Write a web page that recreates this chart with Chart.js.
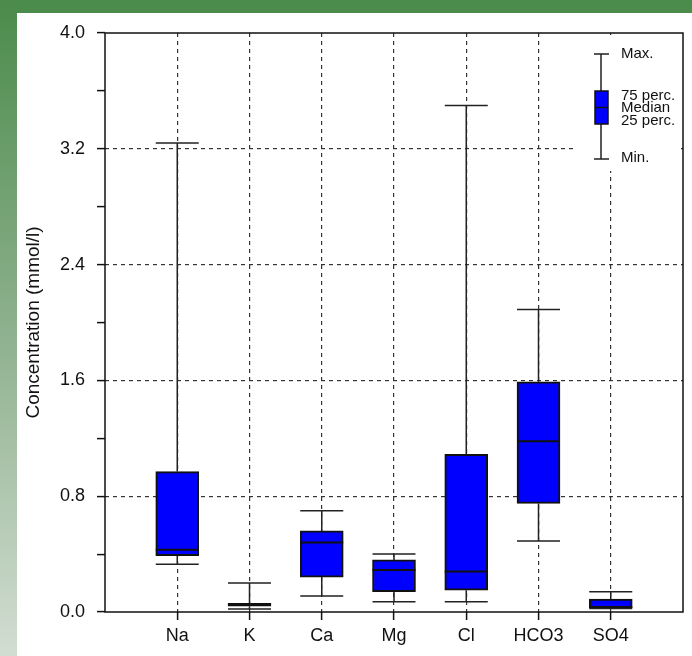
<!DOCTYPE html>
<html>
<head>
<meta charset="utf-8">
<title>Concentration box plot</title>
<script src="https://cdn.jsdelivr.net/npm/chart.js@4.4.1/dist/chart.umd.min.js"></script>
<style>
  html, body { margin: 0; padding: 0; background: #fff; }
  canvas { display: block; }
</style>
</head>
<body>
<canvas id="boxChart" width="692" height="656"></canvas>
<script>
// ions on the x axis, sitting at positions 1..7
const ions = ["Na", "K", "Ca", "Mg", "Cl", "HCO3", "SO4"];

// box statistics per ion (mmol/l)
const minVals = [0.33, 0.02, 0.11, 0.07, 0.07, 0.49, 0.025];
const q1Vals = [0.39, 0.04, 0.24, 0.14, 0.15, 0.75, 0.03];
const medianVals = [0.43, 0.05, 0.48, 0.29, 0.28, 1.18, 0.035];
const q3Vals = [0.97, 0.06, 0.56, 0.36, 1.09, 1.59, 0.09];
const maxVals = [3.24, 0.2, 0.7, 0.4, 3.5, 2.09, 0.14];

// y ticks every 0.4, labelled every 0.8
const yTicks = [0, 0.4, 0.8, 1.2, 1.6, 2.0, 2.4, 2.8, 3.2, 3.6, 4.0];

const legendLabels = ["Max.", "75 perc.", "Median", "25 perc.", "Min."];

const FONT = "'Liberation Sans', Arial, sans-serif";
const BOX_W = 43;
const LINE = "#222";

const bgPlugin = {
  id: "bg",
  beforeDraw(chart) {
    const ctx = chart.ctx;
    const w = chart.width, h = chart.height;
    ctx.save();
    ctx.fillStyle = "#fff";
    ctx.fillRect(0, 0, w, h);
    ctx.fillStyle = "#4b8b4b";
    ctx.fillRect(0, 0, w, 13);
    const g = ctx.createLinearGradient(0, 0, 0, h);
    g.addColorStop(0, "#4b8b4b");
    g.addColorStop(0.5, "#8db08d");
    g.addColorStop(1, "#d2ddd2");
    ctx.fillStyle = g;
    ctx.fillRect(0, 0, 17, h);
    ctx.restore();
  }
};

// whiskers, caps and medians for each box
const boxPlugin = {
  id: "whiskers",
  beforeDatasetsDraw(chart) {
    const ctx = chart.ctx;
    const xs = chart.scales.x, ys = chart.scales.y;
    ctx.save();
    ctx.strokeStyle = LINE;
    ctx.lineWidth = 1.5;
    ions.forEach((name, i) => {
      const x = xs.getPixelForValue(i + 1);
      const yMax = ys.getPixelForValue(maxVals[i]);
      const yMin = ys.getPixelForValue(minVals[i]);
      const yQ1 = ys.getPixelForValue(q1Vals[i]);
      const yQ3 = ys.getPixelForValue(q3Vals[i]);
      ctx.beginPath();
      ctx.moveTo(x, yMax); ctx.lineTo(x, yQ3);
      ctx.moveTo(x, yQ1); ctx.lineTo(x, yMin);
      ctx.moveTo(x - BOX_W / 2, yMax); ctx.lineTo(x + BOX_W / 2, yMax);
      ctx.moveTo(x - BOX_W / 2, yMin); ctx.lineTo(x + BOX_W / 2, yMin);
      ctx.stroke();
    });
    ctx.restore();
  },
  afterDatasetsDraw(chart) {
    const ctx = chart.ctx;
    const xs = chart.scales.x, ys = chart.scales.y;
    ctx.save();
    ctx.strokeStyle = "#111";
    ctx.lineWidth = 2;
    ions.forEach((name, i) => {
      const x = xs.getPixelForValue(i + 1);
      const y = ys.getPixelForValue(medianVals[i]);
      ctx.beginPath();
      ctx.moveTo(x - BOX_W / 2, y);
      ctx.lineTo(x + BOX_W / 2, y);
      ctx.stroke();
    });
    // frame round the plot area
    const a = chart.chartArea;
    ctx.strokeStyle = "#111";
    ctx.lineWidth = 1.5;
    ctx.strokeRect(a.left, a.top, a.right - a.left, a.bottom - a.top);
    ctx.restore();
  }
};

// key in the top right corner
const keyPlugin = {
  id: "boxKey",
  afterDraw(chart) {
    const ctx = chart.ctx;
    const a = chart.chartArea;
    const left = a.right - 106, top = a.top + 2;
    ctx.save();
    ctx.fillStyle = "#fff";
    ctx.fillRect(left, top, 104, 136);
    const cx = left + 24;
    ctx.strokeStyle = LINE;
    ctx.lineWidth = 1.5;
    ctx.beginPath();
    ctx.moveTo(cx, top + 19); ctx.lineTo(cx, top + 124);
    ctx.moveTo(cx - 7, top + 19); ctx.lineTo(cx + 8, top + 19);
    ctx.moveTo(cx - 7, top + 124); ctx.lineTo(cx + 8, top + 124);
    ctx.stroke();
    ctx.fillStyle = "#0000ff";
    ctx.fillRect(cx - 6, top + 56, 13, 33);
    ctx.strokeStyle = "#111";
    ctx.strokeRect(cx - 6, top + 56, 13, 33);
    ctx.beginPath();
    ctx.moveTo(cx - 6, top + 72.5); ctx.lineTo(cx + 7, top + 72.5);
    ctx.stroke();
    ctx.fillStyle = "#111";
    ctx.font = "15px " + FONT;
    ctx.textBaseline = "middle";
    const ys = [19, 61, 73, 86, 123];
    legendLabels.forEach((t, i) => ctx.fillText(t, cx + 20, top + ys[i]));
    ctx.restore();
  }
};

new Chart(document.getElementById("boxChart"), {
  type: "bar",
  data: {
    datasets: [{
      data: ions.map((n, i) => ({ x: i + 1, y: [q1Vals[i], q3Vals[i]] })),
      backgroundColor: "#0000ff",
      borderColor: "#111",
      borderWidth: 2,
      borderSkipped: false,
      barThickness: BOX_W
    }]
  },
  options: {
    responsive: false,
    animation: false,
    devicePixelRatio: 1,
    layout: { padding: { left: 0, top: 33, right: 9, bottom: 0 } },
    plugins: { legend: { display: false }, tooltip: { enabled: false } },
    scales: {
      x: {
        type: "linear",
        min: 0,
        max: 8,
        offset: false,
        afterFit(scale) { scale.height = 44; },
        afterBuildTicks(scale) {
          scale.ticks = [0, 1, 2, 3, 4, 5, 6, 7, 8].map(v => ({ value: v }));
        },
        ticks: {
          autoSkip: false,
          maxRotation: 0,
          padding: 5,
          color: "#111",
          font: { family: FONT, size: 18 },
          callback: v => ions[v - 1] || ""
        },
        grid: {
          offset: false,
          color: c => (c.index > 0 && c.index < 8 ? "#333" : "rgba(0,0,0,0)"),
          lineWidth: 1.2,
          tickLength: 8,
          tickWidth: 1.5,
          tickColor: c => (c.index > 0 && c.index < 8 ? "#111" : "rgba(0,0,0,0)")
        },
        border: { display: false, dash: [4, 4] }
      },
      y: {
        min: 0,
        max: 4,
        afterFit(scale) { scale.width = 105; },
        afterBuildTicks(scale) {
          scale.ticks = yTicks.map(v => ({ value: v }));
        },
        ticks: {
          autoSkip: false,
          padding: 12,
          color: "#111",
          font: { family: FONT, size: 18 },
          callback: (v, i) => (i % 2 === 0 ? yTicks[i].toFixed(1) : "")
        },
        grid: {
          color: c => (c.index % 2 === 0 && c.index > 0 && c.index < 10 ? "#333" : "rgba(0,0,0,0)"),
          lineWidth: 1.2,
          tickLength: 8,
          tickWidth: 1.5,
          tickColor: "#111"
        },
        border: { display: false, dash: [4, 4] },
        title: {
          display: true,
          text: "Concentration (mmol/l)",
          color: "#111",
          font: { family: FONT, size: 19 },
          padding: { top: 22, bottom: 0 }
        }
      }
    }
  },
  plugins: [bgPlugin, boxPlugin, keyPlugin]
});
</script>
</body>
</html>
